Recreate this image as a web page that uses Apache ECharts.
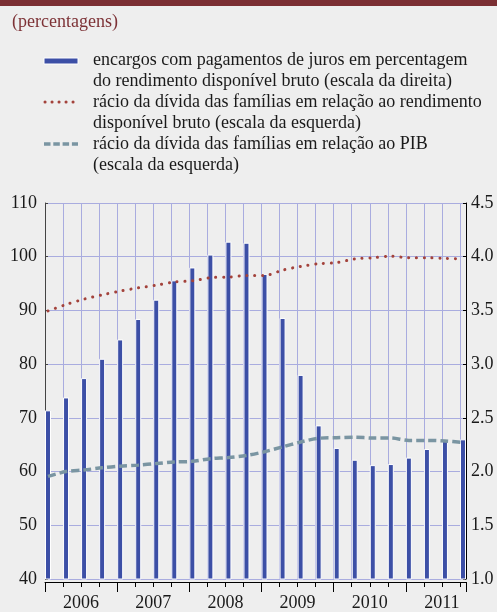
<!DOCTYPE html>
<html>
<head>
<meta charset="utf-8">
<script src="https://cdn.jsdelivr.net/npm/echarts@6/dist/echarts.min.js"></script>
<style>
html,body{margin:0;padding:0;background:#eeeeee;}
#chart{width:497px;height:612px;}
</style>
</head>
<body>
<div id="chart"></div>
<script>
// ---- data ----
const years = [2006, 2007, 2008, 2009, 2010, 2011];
const lastMonth = 10; // axis ends with October 2011
const quarters = [
  '2006-01','2006-04','2006-07','2006-10',
  '2007-01','2007-04','2007-07','2007-10',
  '2008-01','2008-04','2008-07','2008-10',
  '2009-01','2009-04','2009-07','2009-10',
  '2010-01','2010-04','2010-07','2010-10',
  '2011-01','2011-04','2011-07','2011-10'
];
// interest payment burden, % of gross disposable income (right scale)
const interestBurden = [2.57, 2.69, 2.87, 3.05, 3.23, 3.42, 3.60, 3.78, 3.90, 4.02, 4.14, 4.13,
                        3.84, 3.43, 2.90, 2.43, 2.22, 2.11, 2.06, 2.07, 2.13, 2.21, 2.29, 2.30];
// household debt to gross disposable income (left scale)
const debtToIncome = [89.9, 91.1, 92.1, 92.9, 93.6, 94.2, 94.7, 95.3, 95.5, 96.1, 96.2, 96.5,
                      96.5, 97.5, 98.2, 98.7, 98.9, 99.6, 99.8, 100.1, 99.8, 99.8, 99.7, 99.6];
// household debt to GDP (left scale)
const debtToGDP = [59.1, 60.0, 60.3, 60.7, 61.0, 61.2, 61.5, 61.8, 61.9, 62.4, 62.6, 63.0,
                   63.7, 64.6, 65.5, 66.2, 66.3, 66.4, 66.25, 66.25, 65.8, 65.8, 65.7, 65.4];
const leftTicks = {min: 40, max: 110, interval: 10};
const rightTicks = {min: 1.0, max: 4.5, interval: 0.5};
const legendNames = [
  'encargos com pagamentos de juros em percentagem\ndo rendimento disponível bruto (escala da direita)',
  'rácio da dívida das famílias em relação ao rendimento\ndisponível bruto (escala da esquerda)',
  'rácio da dívida das famílias em relação ao PIB\n(escala da esquerda)'
];
const subtitle = '(percentagens)';

// ---- build ----
const months = [];
years.forEach(y => {
  for (let m = 1; m <= 12; m++) {
    if (y === years[years.length - 1] && m > lastMonth) break;
    months.push(y + '-' + String(m).padStart(2, '0'));
  }
});

const FONT = 'Liberation Serif';
const BLUE = '#3c4fa6';
const RED = '#a3423b';
const SLATE = '#7a95a2';
const GRID = '#a9acdf';

const chart = echarts.init(document.getElementById('chart'), null, {renderer: 'canvas'});
chart.setOption({
  backgroundColor: '#eeeeee',
  animation: false,
  grid: {left: 45, right: 31, top: 203, bottom: 33, containLabel: false},
  xAxis: [
    {
      type: 'category', data: months, boundaryGap: true, position: 'bottom', offset: 3,
      axisLine: {show: true, lineStyle: {color: '#000', width: 1}},
      axisTick: {show: true, length: 5, interval: (i) => i % 3 === 0, lineStyle: {color: '#000', width: 1}},
      axisLabel: {show: false},
      splitLine: {show: true, interval: (i) => i % 3 === 0, lineStyle: {color: GRID, width: 1}}
    },
    {
      type: 'category', data: months, boundaryGap: true, position: 'bottom', offset: 3,
      axisLine: {show: false},
      axisTick: {show: true, length: 10, interval: (i) => i % 12 === 0, lineStyle: {color: '#000', width: 1}},
      axisLabel: {
        show: true, interval: (i) => i % 12 === 6, margin: 12,
        formatter: (v) => v.slice(0, 4), padding: [0, 6, 0, 0],
        fontFamily: FONT, fontSize: 18, color: '#1a1a1a'
      },
      splitLine: {show: false}
    }
  ],
  yAxis: [
    {
      type: 'value', position: 'left', min: leftTicks.min, max: leftTicks.max, interval: leftTicks.interval,
      axisLine: {show: true, lineStyle: {color: '#444', width: 1}},
      axisTick: {show: true, inside: true, length: 3, lineStyle: {color: '#444'}},
      axisLabel: {fontFamily: FONT, fontSize: 18, color: '#1a1a1a', margin: 8},
      splitLine: {show: true, lineStyle: {color: GRID, width: 1}}
    },
    {
      type: 'value', position: 'right', min: rightTicks.min, max: rightTicks.max, interval: rightTicks.interval,
      axisLine: {show: true, lineStyle: {color: '#000', width: 1}},
      axisTick: {show: true, inside: true, length: 3, lineStyle: {color: '#000'}},
      axisLabel: {fontFamily: FONT, fontSize: 18, color: '#1a1a1a', margin: 5, formatter: (v) => v.toFixed(1)},
      splitLine: {show: false}
    }
  ],
  series: [
    {
      name: legendNames[0], type: 'bar', xAxisIndex: 0, yAxisIndex: 1, barWidth: 6,
      data: quarters.map((q, i) => [q, interestBurden[i]]),
      itemStyle: {color: BLUE, borderColor: '#ffffff', borderWidth: 1},
      z: 2
    },
    {
      name: legendNames[1], type: 'line', xAxisIndex: 0, yAxisIndex: 0, symbol: 'none', smooth: 0.3,
      data: quarters.map((q, i) => [q, debtToIncome[i]]),
      lineStyle: {color: RED, width: 3, type: [0.1, 7.7], cap: 'round'},
      z: 4
    },
    {
      name: legendNames[2], type: 'line', xAxisIndex: 0, yAxisIndex: 0, symbol: 'none', smooth: 0.3,
      data: quarters.map((q, i) => [q, debtToGDP[i]]),
      lineStyle: {color: SLATE, width: 3.5, type: [8, 4]},
      z: 4
    }
  ],
  graphic: [
    {type: 'rect', left: 0, top: 0, shape: {x: 0, y: 0, width: 497, height: 6}, style: {fill: '#7b2f33'}},
    {type: 'text', x: 12, y: 22, style: {text: subtitle, font: '18px "' + FONT + '"', fill: '#7d3236', textVerticalAlign: 'middle'}},
    {type: 'rect', shape: {x: 44, y: 58, width: 34, height: 6}, style: {fill: BLUE, stroke: '#ffffff', lineWidth: 1}},
    {type: 'line', shape: {x1: 45, y1: 102, x2: 78, y2: 102}, style: {stroke: RED, lineWidth: 3, lineDash: [0.1, 6.9], lineCap: 'round'}},
    {type: 'line', shape: {x1: 44, y1: 144, x2: 78, y2: 144}, style: {stroke: SLATE, lineWidth: 3.5, lineDash: [6.5, 2.8]}},
    {type: 'text', x: 93, y: 49.5, style: {text: legendNames[0], font: '18px "' + FONT + '"', fill: '#1a1a1a', lineHeight: 21}},
    {type: 'text', x: 93, y: 91.5, style: {text: legendNames[1], font: '18px "' + FONT + '"', fill: '#1a1a1a', lineHeight: 21}},
    {type: 'text', x: 93, y: 133.5, style: {text: legendNames[2], font: '18px "' + FONT + '"', fill: '#1a1a1a', lineHeight: 21}}
  ]
});
</script>
</body>
</html>
